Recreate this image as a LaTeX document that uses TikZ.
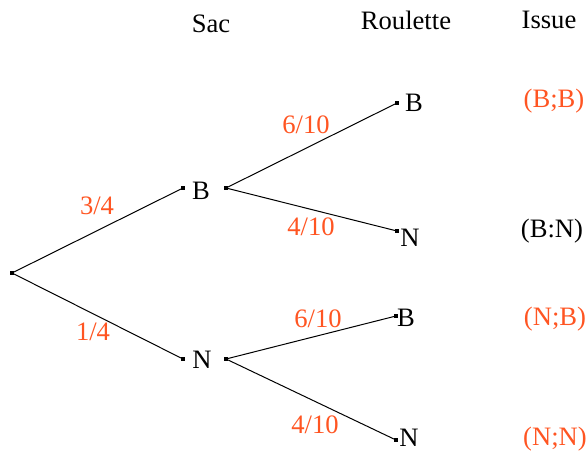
\documentclass[tikz,border=0pt]{standalone}
\usepackage{fontspec}
\setmainfont{Liberation Serif}
\usetikzlibrary{positioning}
\definecolor{probred}{RGB}{255,85,34}

\begin{document}
\begin{tikzpicture}[x=0.5pt, y=-0.5pt, every node/.style={font=\fontsize{13.3}{15}\selectfont}]
    \tikzset{
      dotpt/.style={rectangle, fill=black, inner sep=0pt, minimum size=1.6pt},
      prob/.style={text=probred, inner sep=0pt},
      branch/.style={line width=0.5pt}}
    \useasboundingbox (0,0) rectangle (588,454);
    % titres des colonnes
    \node (hsac)  at (211,24) {Sac};
    \node (hroul) at (406,20) {Roulette};
    \node (hiss)  at (549,20) {Issue};
    % premier tirage : le sac
    \node[dotpt] (r)    at (12,273)  {};
    \node[dotpt] (bin)  at (183,188) {};
    \node        (b)    at (201,191) {B};
    \node[dotpt] (bout) at (226,188) {};
    \node[dotpt] (nin)  at (183,359) {};
    \node        (n)    at (202,360) {N};
    \node[dotpt] (nout) at (226,359) {};
    \draw[branch] (r) -- (bin);
    \draw[branch] (r) -- (nin);
    \node[prob] at (97,206) {3/4};
    \node[prob] at (93,332) {1/4};
    % second tirage : la roulette
    \node[dotpt] (bbin) at (397,103) {};
    \node        (bb)   at (414,103) {B};
    \node[dotpt] (bnin) at (397,231) {};
    \node        (bn)   at (410,238) {N};
    \node[dotpt] (nbin) at (396,316) {};
    \node        (nb)   at (406,318) {B};
    \node[dotpt] (nnin) at (396,440) {};
    \node[inner sep=0pt] (nn) at (409,438) {N};
    \draw[branch] (bout) -- (bbin);
    \draw[branch] (bout) -- (bnin);
    \draw[branch] (nout) -- (nbin);
    \draw[branch] (nout) -- (nnin);
    \node[prob] at (306,125) {6/10};
    \node[prob] at (311,227) {4/10};
    \node[prob] at (318,319) {6/10};
    \node[prob] at (315,425) {4/10};
    % issues
    \node[prob] (ibb) at (554,101) {(B;B)};
    \node       (ibn) at (552,231) {(B:N)};
    \node[prob] (inb) at (555,319) {(N;B)};
    \node[prob] (inn) at (555,439) {(N;N)};
  \end{tikzpicture}
\end{document}
